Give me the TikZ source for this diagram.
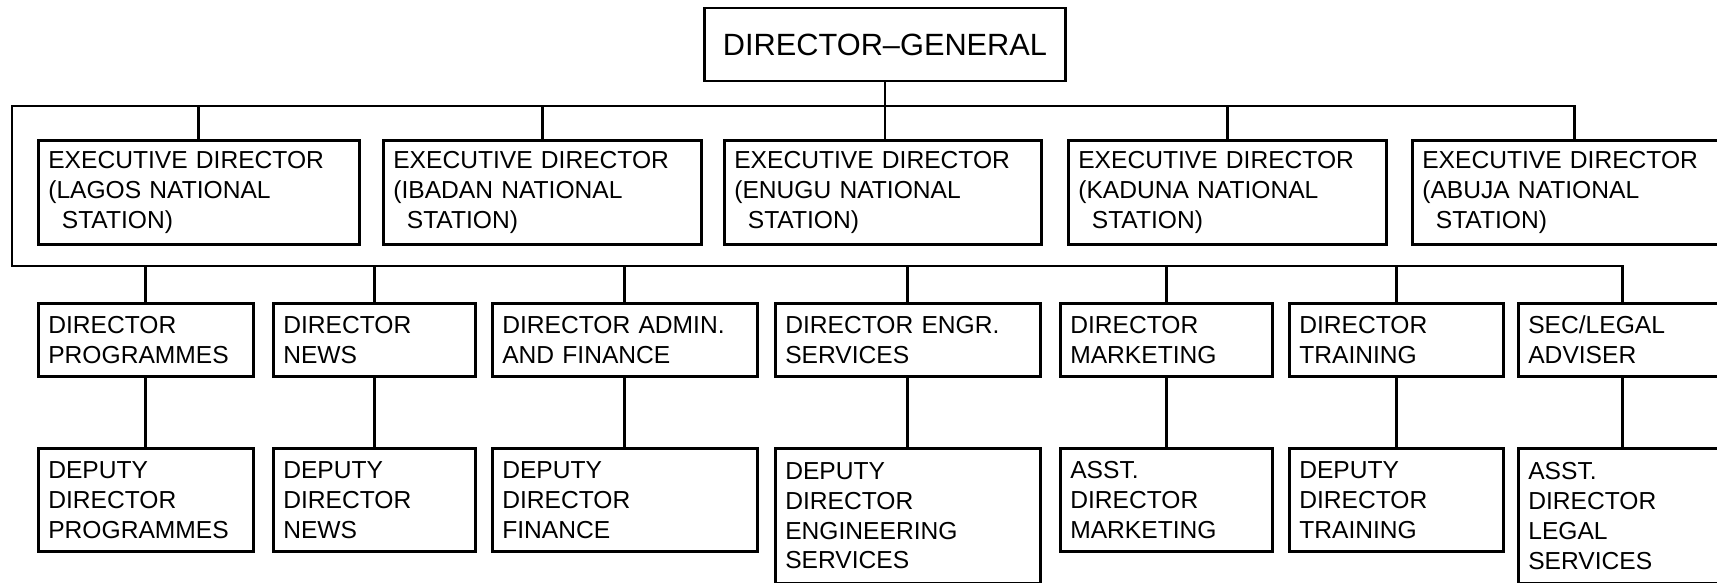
\documentclass[tikz,border=0pt]{standalone}
\usepackage{fontspec}
\setmainfont{Liberation Sans}
\begin{document}
\begin{tikzpicture}[x=0.02cm, y=-0.02cm, line width=1.5pt]
\tikzset{cadre/.style 2 args={draw, anchor=north west, align=left, inner xsep=0.2cm, inner ysep=0pt, text width=#1, minimum height=#2, font=\fontsize{14}{17}\selectfont}}
\useasboundingbox (0,0) rectangle (1717,582);
\clip (0,0) rectangle (1717,582);
\node[draw, minimum width=7.22cm, minimum height=1.46cm, font=\fontsize{17.5}{20}\selectfont] (DG) at (885,44.5) {DIRECTOR--GENERAL};
\node[cadre={6.02cm}{2.08cm}] (E1) at (37,139) {EXECUTIVE DIRECTOR\\(LAGOS NATIONAL\\\hspace*{0.55em}STATION)};
\node[cadre={5.96cm}{2.08cm}] (E2) at (382,139) {EXECUTIVE DIRECTOR\\(IBADAN NATIONAL\\\hspace*{0.55em}STATION)};
\node[cadre={5.94cm}{2.08cm}] (E3) at (723,139) {EXECUTIVE DIRECTOR\\(ENUGU NATIONAL\\\hspace*{0.55em}STATION)};
\node[cadre={5.96cm}{2.08cm}] (E4) at (1067,139) {EXECUTIVE DIRECTOR\\(KADUNA NATIONAL\\\hspace*{0.55em}STATION)};
\node[cadre={6.08cm}{2.08cm}] (E5) at (1411,139) {EXECUTIVE DIRECTOR\\(ABUJA NATIONAL\\\hspace*{0.55em}STATION)};
\node[cadre={3.90cm}{1.46cm}] (D1) at (37,302) {DIRECTOR\\PROGRAMMES};
\node[cadre={3.64cm}{1.46cm}] (D2) at (272,302) {DIRECTOR\\NEWS};
\node[cadre={4.90cm}{1.46cm}] (D3) at (491,302) {DIRECTOR ADMIN.\\AND FINANCE};
\node[cadre={4.90cm}{1.46cm}] (D4) at (774,302) {DIRECTOR ENGR.\\SERVICES};
\node[cadre={3.84cm}{1.46cm}] (D5) at (1059,302) {DIRECTOR\\MARKETING};
\node[cadre={3.88cm}{1.46cm}] (D6) at (1288,302) {DIRECTOR\\TRAINING};
\node[cadre={3.76cm}{1.46cm}] (D7) at (1517,302) {SEC/LEGAL\\ADVISER};
\node[cadre={3.90cm}{2.06cm}] (A1) at (37,447) {DEPUTY\\DIRECTOR\\PROGRAMMES};
\node[cadre={3.64cm}{2.06cm}] (A2) at (272,447) {DEPUTY\\DIRECTOR\\NEWS};
\node[cadre={4.90cm}{2.06cm}] (A3) at (491,447) {DEPUTY\\DIRECTOR\\FINANCE};
\node[cadre={4.90cm}{2.70cm}] (A4) at (774,447) {DEPUTY\\DIRECTOR\\ENGINEERING\\SERVICES};
\node[cadre={3.84cm}{2.06cm}] (A5) at (1059,447) {ASST.\\DIRECTOR\\MARKETING};
\node[cadre={3.88cm}{2.06cm}] (A6) at (1288,447) {DEPUTY\\DIRECTOR\\TRAINING};
\node[cadre={3.76cm}{2.70cm}] (A7) at (1517,447) {ASST.\\DIRECTOR\\LEGAL\\SERVICES};
\coordinate (haut) at (12,106);
\coordinate (bas) at (12,266);
\draw (DG.south) -- (DG.south |- E3.north);
\draw (E5.north) -- (E5.north |- haut) -- (haut) -- (bas) -- (bas -| D7.north) -- (D7.north);
\foreach \n in {E1,E2,E4}
  \draw (\n.north) -- (\n.north |- haut);
\foreach \i in {1,...,6}
  \draw (D\i.north) -- (D\i.north |- bas);
\foreach \i in {1,...,7}
  \draw (D\i) -- (A\i);
\end{tikzpicture}
\end{document}
